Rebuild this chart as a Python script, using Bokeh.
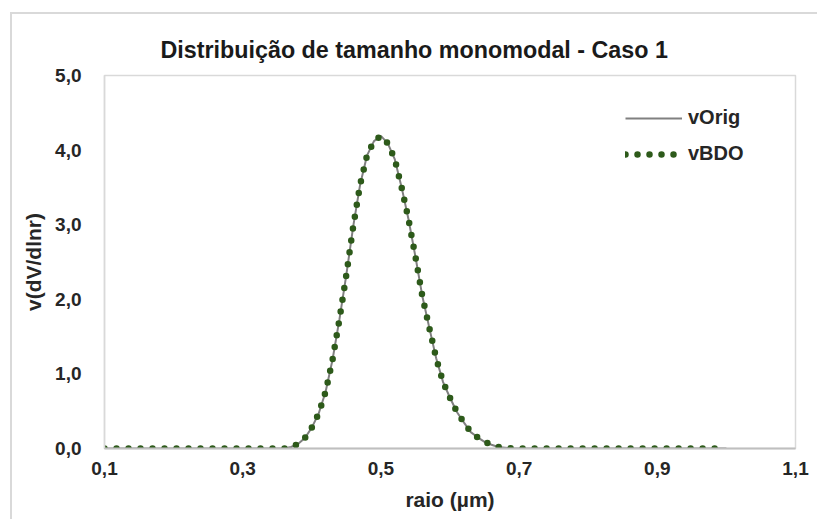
from bokeh.plotting import figure
from bokeh.models import Range1d, FixedTicker, Legend, LegendItem, ColumnDataSource
from bokeh.embed import file_html
from bokeh.resources import INLINE

# ---- data ----
raio = [0.10, 0.15, 0.20, 0.25, 0.30, 0.35, 0.36, 0.37, 0.38, 0.39,
        0.40, 0.41, 0.42, 0.43, 0.44, 0.45, 0.46, 0.47, 0.48, 0.49,
        0.50, 0.51, 0.52, 0.53, 0.54, 0.55, 0.56, 0.57, 0.58, 0.59,
        0.60, 0.61, 0.62, 0.63, 0.64, 0.65, 0.66, 0.67, 0.68, 0.69,
        0.70, 0.75, 0.80, 0.85, 0.90, 0.95, 1.00]
v_orig = [0.0, 0.0, 0.0, 0.0, 0.0, 0.0, 0.0, 0.02, 0.06, 0.14,
          0.28, 0.47, 0.76, 1.19, 1.73, 2.33, 2.98, 3.54, 3.93, 4.12,
          4.19, 4.09, 3.88, 3.50, 3.07, 2.57, 2.04, 1.62, 1.21, 0.89,
          0.68, 0.49, 0.35, 0.22, 0.15, 0.09, 0.05, 0.02, 0.01, 0.0,
          0.0, 0.0, 0.0, 0.0, 0.0, 0.0, 0.0]
v_bdo = [0.0, 0.0, 0.0, 0.0, 0.0, 0.0, 0.0, 0.02, 0.06, 0.14,
         0.28, 0.47, 0.76, 1.19, 1.73, 2.33, 2.98, 3.54, 3.93, 4.12,
         4.19, 4.09, 3.88, 3.50, 3.07, 2.57, 2.04, 1.62, 1.21, 0.89,
         0.68, 0.49, 0.35, 0.22, 0.15, 0.09, 0.05, 0.02, 0.01, 0.0,
         0.0, 0.0, 0.0, 0.0, 0.0, 0.0, 0.0]

x_ticks = [0.1, 0.3, 0.5, 0.7, 0.9, 1.1]
x_tick_labels = ["0,1", "0,3", "0,5", "0,7", "0,9", "1,1"]
y_ticks = [0.0, 1.0, 2.0, 3.0, 4.0, 5.0]
y_tick_labels = ["0,0", "1,0", "2,0", "3,0", "4,0", "5,0"]

title_text = "Distribuição de tamanho monomodal - Caso 1"
x_label = "raio (µm)"
y_label = "v(dV/dlnr)"
series_names = ["vOrig", "vBDO"]

FONT = "Liberation Sans"
TXT = "#262626"

p = figure(width=807, height=507,
           x_range=Range1d(0.1, 1.1), y_range=Range1d(0, 5),
           output_backend="svg", toolbar_location=None,
           min_border_left=92, min_border_right=24,
           min_border_top=61, min_border_bottom=73)

p.styles = {"margin-left": "10px", "margin-top": "12px",
            "border-left": "2px solid #d9d9d9",
            "border-top": "2px solid #d9d9d9"}

p.title.text = title_text
p.title.align = "left"
p.title.offset = 56
p.title.standoff = 25
p.title.text_font = FONT
p.title.text_font_size = "23.3px"
p.title.text_font_style = "bold"
p.title.text_color = "#1a1a1a"

p.grid.visible = False
p.outline_line_color = "#d9d9d9"
p.outline_line_width = 1.5
p.background_fill_color = "white"
p.border_fill_color = "white"

for ax in (p.xaxis[0], p.yaxis[0]):
    ax.major_tick_line_color = None
    ax.minor_tick_line_color = None
    ax.major_label_text_font = FONT
    ax.major_label_text_font_size = "19px"
    ax.major_label_text_font_style = "bold"
    ax.major_label_text_color = TXT
    ax.axis_label_text_font = FONT
    ax.axis_label_text_font_size = "21px"
    ax.axis_label_text_font_style = "bold"
    ax.axis_label_text_color = TXT

p.xaxis.ticker = FixedTicker(ticks=x_ticks)
p.xaxis.major_label_overrides = dict(zip(x_ticks, x_tick_labels))
p.yaxis.ticker = FixedTicker(ticks=y_ticks)
p.yaxis.major_label_overrides = dict(zip(y_ticks, y_tick_labels))
p.xaxis.axis_label = x_label
p.yaxis.axis_label = y_label
p.xaxis.axis_line_color = "#bfbfbf"
p.xaxis.axis_line_width = 2
p.yaxis.axis_line_color = "#d9d9d9"
p.yaxis.axis_line_width = 1.5
p.xaxis.major_label_standoff = 7
p.yaxis.major_label_standoff = 17
p.xaxis.axis_label_standoff = 10
p.yaxis.axis_label_standoff = 7

src = ColumnDataSource(dict(x=raio, orig=v_orig, bdo=v_bdo))
r1 = p.line("x", "orig", source=src, line_color="#808080", line_width=2)
r2 = p.line("x", "bdo", source=src, line_color="#2d5a1a", line_width=6.5,
            line_dash="0 12", line_cap="round")

legend = Legend(items=[LegendItem(label=series_names[0], renderers=[r1]),
                       LegendItem(label=series_names[1], renderers=[r2])],
                location=(521, 283), orientation="vertical",
                glyph_width=57, glyph_height=22, label_height=22,
                label_standoff=6, spacing=13, padding=0, margin=0,
                border_line_color=None, background_fill_alpha=0,
                label_text_font=FONT, label_text_font_size="20px",
                label_text_font_style="bold", label_text_color=TXT)
p.add_layout(legend)

open("out.html", "w").write(file_html(p, INLINE))
